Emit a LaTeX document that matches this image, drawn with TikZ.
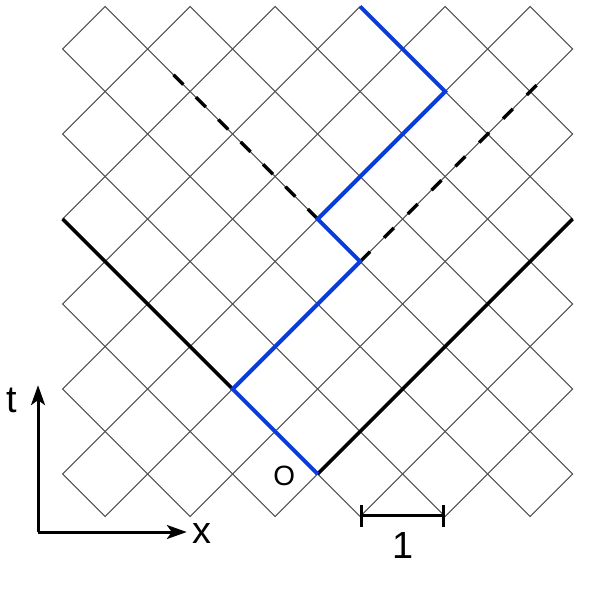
\documentclass[tikz,border=0pt]{standalone}
\usepackage{fontspec}
\setmainfont{Liberation Sans}
\usepackage{xcolor}
\usetikzlibrary{arrows.meta, calc, positioning}
\definecolor{pathblue}{RGB}{10,60,220}
\definecolor{gridgray}{RGB}{80,80,80}

\begin{document}
\begin{tikzpicture}[x=0.75cm, y=0.75cm, >=Stealth,
        gridline/.style={draw=gridgray, line width=0.55pt},
        worldline/.style={draw=black, line width=1.8pt},
        cone/.style={draw=black, line width=1.7pt, dash pattern=on 7pt off #1},
        bluepath/.style={draw=pathblue, line width=2pt},
        axis/.style={->, line width=1.5pt, >={Stealth[length=10pt, width=7pt, inset=2.5pt]}},
        biglabel/.style={font=\fontsize{19}{22}\selectfont, inner sep=0pt}]
        
        \useasboundingbox (-7.475,-2.965) rectangle (6.784,11.153);
        
        % Grid
        \foreach \i in {-5,-3,...,5}
            \foreach \j in {0,2,...,10}
                \draw[gridline] ({\i-1},\j) -- (\i,{\j+1}) -- ({\i+1},\j) -- (\i,{\j-1}) -- cycle;
        
        % Points
        \coordinate (O) at (0,0);
        \coordinate (p1) at (-2,2);
        \coordinate (p2) at (1,5);
        \coordinate (p3) at (0,6);
        \coordinate (p4) at (3,9);
        \coordinate (p5) at (1,11);
        \coordinate (lefttop) at (-6,6);
        \coordinate (righttop) at (6,6);
        \coordinate (coneleft) at (-3.41,9.41);
        \coordinate (coneright) at (5.15,9.15);
        
        % Light cone
        \draw[worldline] (lefttop) -- (p1);
        \draw[worldline] (O) -- (righttop);
        \draw[cone=8.9pt] (p3) -- (coneleft);
        \draw[cone=9.9pt] (p2) -- (coneright);
        
        % Path
        \draw[bluepath] (O) -- (p1) -- (p2) -- (p3) -- (p4) -- (p5);
        
        % Axes
        \coordinate (axo) at (-6.58,-1.365);
        \coordinate (taxis) at (-6.58,2.09);
        \coordinate (xaxis) at (-3.08,-1.365);
        \draw[axis] (axo) -- (taxis);
        \draw[axis] (axo) -- (xaxis);
        \node[biglabel] (tlabel) at (-7.2,1.74) {t};
        \node[biglabel] (xlabel) at (-2.72,-1.39) {x};
        \node[font=\fontsize{14}{16}\selectfont, inner sep=0pt] (olabel) at (-0.79,-0.04) {O};
        
        % Scale
        \coordinate (barl) at (1,-0.98);
        \coordinate (barr) at (3,-0.98);
        \draw[line width=1.5pt, {Bar[width=11pt]}-{Bar[width=11pt]}] (barl) -- (barr);
        \node[biglabel] (unit) at (2,-1.68) {1};
    \end{tikzpicture}
\end{document}
